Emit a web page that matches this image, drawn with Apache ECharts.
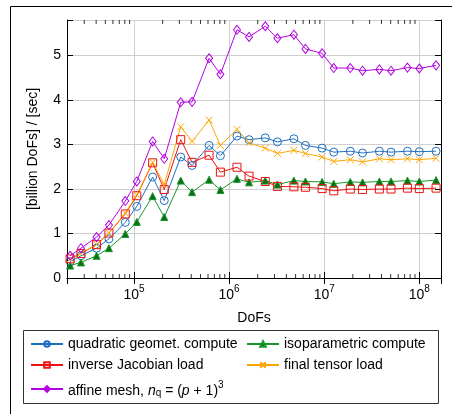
<!DOCTYPE html>
<html lang="en">
<head>
    <meta charset="UTF-8" />
    <title>DoFs throughput</title>
    <script src="https://cdn.jsdelivr.net/npm/echarts/dist/echarts.min.js"></script>
    <style>
        body { margin: 0; background: #fff; }
        #chart { width: 452px; height: 414px; }
    </style>
</head>
<body>
    <div id="chart"></div>
    <script>
        // problem sizes (DoFs)
        const dofs = [2.13e4, 2.77e4, 4.04e4, 5.45e4, 8.1e4, 1.07e5, 1.57e5, 2.08e5, 3.1e5, 4.08e5,
            6.16e5, 8.1e5, 1.21e6, 1.62e6, 2.4e6, 3.22e6, 4.8e6, 6.35e6, 9.5e6, 1.26e7,
            1.88e7, 2.53e7, 3.8e7, 5.04e7, 7.5e7, 1.0e8, 1.5e8];

        // throughput in billion DoFs per second
        const quadratic = [0.37, 0.50, 0.67, 0.88, 1.25, 1.61, 2.27, 1.74, 2.72, 2.53,
            2.98, 2.75, 3.19, 3.11, 3.15, 3.06, 3.13, 2.98, 2.92, 2.83,
            2.85, 2.81, 2.85, 2.83, 2.85, 2.84, 2.85];
        const isoparametric = [0.28, 0.35, 0.50, 0.67, 0.99, 1.26, 1.84, 1.37, 2.19, 1.93,
            2.21, 1.98, 2.23, 2.15, 2.19, 2.10, 2.19, 2.17, 2.16, 2.12,
            2.16, 2.15, 2.17, 2.17, 2.19, 2.17, 2.20];
        const invJacobian = [0.43, 0.55, 0.75, 1.01, 1.44, 1.85, 2.59, 1.99, 3.11, 2.60,
            2.76, 2.38, 2.49, 2.29, 2.17, 2.06, 2.05, 2.04, 2.01, 1.96,
            2.00, 1.99, 2.00, 2.00, 2.02, 2.01, 2.02];
        const finalTensor = [0.43, 0.56, 0.75, 1.01, 1.46, 1.87, 2.60, 2.10, 3.40, 3.07,
            3.55, 2.98, 3.34, 3.04, 2.92, 2.80, 2.87, 2.80, 2.72, 2.62,
            2.66, 2.61, 2.68, 2.66, 2.68, 2.66, 2.69];
        const affine = [0.50, 0.67, 0.92, 1.19, 1.73, 2.17, 3.07, 2.68, 3.95, 3.96,
            4.94, 4.58, 5.58, 5.42, 5.66, 5.39, 5.47, 5.15, 5.05, 4.72,
            4.72, 4.66, 4.69, 4.66, 4.73, 4.71, 4.78];

        // minor tick positions of the log axis
        const minorTicks = [3e4, 4e4, 5e4, 6e4, 7e4, 8e4, 9e4,
            2e5, 3e5, 4e5, 5e5, 6e5, 7e5, 8e5, 9e5,
            2e6, 3e6, 4e6, 5e6, 6e6, 7e6, 8e6, 9e6,
            2e7, 3e7, 4e7, 5e7, 6e7, 7e7, 8e7, 9e7];

        const xMin = 1.975e4, xMax = 1.69e8, yMax = 5.8;
        const font = 'Liberation Sans, Arial, sans-serif';

        const names = ['quadratic geomet. compute', 'isoparametric compute', 'inverse Jacobian load',
            'final tensor load', 'affine mesh, nq = (p + 1)3'];

        function pts(vals) {
            return dofs.map((d, i) => [d, vals[i]]);
        }

        function lineSeries(name, vals, color, symbol, fill, size) {
            return {
                name: name,
                type: 'line',
                data: pts(vals),
                symbol: symbol,
                symbolSize: size,
                showAllSymbol: true,
                lineStyle: { color: color, width: 1 },
                itemStyle: { color: fill, borderColor: color, borderWidth: 1 },
                emphasis: { disabled: true },
                z: 3
            };
        }

        const crossPath = 'path://M0,0L10,10M10,0L0,10';

        const chart = echarts.init(document.getElementById('chart'));

        function legendItem(name, left, top, extra) {
            return Object.assign({
                data: [name],
                left: left,
                top: top,
                itemWidth: 32,
                itemHeight: 7,
                padding: 0,
                textStyle: { fontFamily: font, fontSize: 14, color: '#000' }
            }, extra || {});
        }

        const option = {
            animation: false,
            grid: { left: 67, right: 11, top: 20, bottom: 136 },
            graphic: [
                {
                    type: 'rect',
                    shape: { x: 10.5, y: 6.5, width: 600, height: 600 },
                    style: { fill: 'none', stroke: '#000', lineWidth: 1 },
                    silent: true
                },
                {
                    type: 'rect',
                    shape: { x: 23.5, y: 330.5, width: 415, height: 73 },
                    style: { fill: 'none', stroke: '#333', lineWidth: 1 },
                    silent: true
                }
            ],
            legend: [
                legendItem(names[0], 30, 337),
                legendItem(names[1], 246, 337),
                legendItem(names[2], 30, 358),
                legendItem(names[3], 246, 358),
                legendItem(names[4], 30, 380, {
                    formatter: function () {
                        return '{t|affine mesh, }{i|n}{s|q}{t| = (}{i|p}{t| + 1)}{p|3}';
                    },
                    textStyle: {
                        fontFamily: font, fontSize: 14, color: '#000',
                        rich: {
                            t: { fontFamily: font, fontSize: 14, lineHeight: 18, verticalAlign: 'bottom' },
                            i: { fontFamily: font, fontSize: 14, fontStyle: 'italic', lineHeight: 18, verticalAlign: 'bottom' },
                            s: { fontFamily: font, fontSize: 10, lineHeight: 14, verticalAlign: 'bottom' },
                            p: { fontFamily: font, fontSize: 10, lineHeight: 18, verticalAlign: 'top' }
                        }
                    }
                })
            ],
            xAxis: [
                {
                    type: 'log',
                    logBase: 10,
                    min: xMin,
                    max: xMax,
                    name: 'DoFs',
                    nameLocation: 'middle',
                    nameGap: 33,
                    nameTextStyle: { fontFamily: font, fontSize: 14, color: '#000' },
                    axisLine: { lineStyle: { color: '#000', width: 1 } },
                    axisTick: { inside: true, length: 6, lineStyle: { color: '#000' } },
                    splitLine: { show: true, lineStyle: { color: '#cfcfcf', width: 1 } },
                    axisLabel: {
                        margin: 6,
                        color: '#000',
                        fontFamily: font,
                        fontSize: 14,
                        formatter: function (v) {
                            const e = Math.log10(v);
                            if (Math.abs(e - Math.round(e)) > 1e-6) return '';
                            return '{b|10}{e|' + Math.round(e) + '}';
                        },
                        rich: {
                            b: { fontFamily: font, fontSize: 14, lineHeight: 18, verticalAlign: 'bottom' },
                            e: { fontFamily: font, fontSize: 10, lineHeight: 18, verticalAlign: 'top' }
                        }
                    }
                },
                {
                    type: 'log',
                    logBase: 10,
                    min: xMin,
                    max: xMax,
                    position: 'top',
                    axisLine: { lineStyle: { color: '#000', width: 1 } },
                    axisTick: { inside: true, length: 6, lineStyle: { color: '#000' } },
                    axisLabel: { show: false },
                    splitLine: { show: false }
                }
            ],
            yAxis: [
                {
                    type: 'value',
                    min: 0,
                    max: yMax,
                    interval: 1,
                    name: '[billion DoFs] / [sec]',
                    nameLocation: 'middle',
                    nameGap: 27,
                    nameTextStyle: { fontFamily: font, fontSize: 14, color: '#000' },
                    axisLine: { show: true, lineStyle: { color: '#000', width: 1 } },
                    axisTick: { show: true, inside: true, length: 6, lineStyle: { color: '#000' } },
                    splitLine: { show: true, lineStyle: { color: '#cfcfcf', width: 1 } },
                    axisLabel: {
                        margin: 6,
                        color: '#000',
                        fontFamily: font,
                        fontSize: 14,
                        formatter: function (v) {
                            return Number.isInteger(v) ? String(v) : '';
                        }
                    }
                },
                {
                    type: 'value',
                    min: 0,
                    max: yMax,
                    interval: 1,
                    position: 'right',
                    axisLine: { show: true, lineStyle: { color: '#000', width: 1 } },
                    axisTick: { show: true, inside: true, length: 6, lineStyle: { color: '#000' } },
                    axisLabel: { show: false },
                    splitLine: { show: false }
                }
            ],
            series: [
                lineSeries(names[0], quadratic, '#1f6fbf', 'circle', 'rgba(0,0,0,0)', 8),
                lineSeries(names[1], isoparametric, '#16962a', 'triangle', '#0b6e14', 7),
                lineSeries(names[2], invJacobian, '#ee1111', 'rect', 'rgba(0,0,0,0)', 8),
                lineSeries(names[3], finalTensor, '#ffa500', crossPath, 'rgba(0,0,0,0)', 7),
                lineSeries(names[4], affine, '#b300e0', 'diamond', 'rgba(0,0,0,0)', [7, 9]),
                {
                    type: 'scatter',
                    data: minorTicks.map(t => [t, 0]),
                    symbol: 'rect',
                    symbolSize: [1, 4],
                    symbolOffset: [0, -2],
                    itemStyle: { color: '#000' },
                    silent: true,
                    z: 5
                },
                {
                    type: 'scatter',
                    data: minorTicks.map(t => [t, yMax]),
                    symbol: 'rect',
                    symbolSize: [1, 4],
                    symbolOffset: [0, 2],
                    itemStyle: { color: '#000' },
                    silent: true,
                    z: 5
                }
            ]
        };

        chart.setOption(option);
    </script>
</body>
</html>
